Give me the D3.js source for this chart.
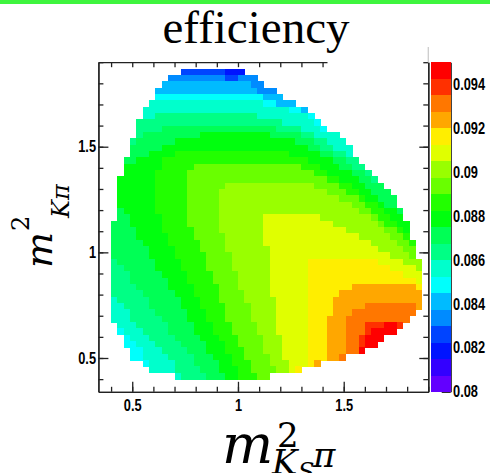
<!DOCTYPE html>
<html lang="en">
<head>
<meta charset="UTF-8">
<title>efficiency</title>
<script src="https://d3js.org/d3.v7.min.js"></script>
<style>
  body { margin: 0; padding: 0; background: #fff; }
  svg { display: block; }
  .lab text { font-family: "Liberation Sans", Arial, sans-serif; font-weight: bold; font-size: 16px; fill: #000; }
  .lab path, .lab line { stroke: #222; stroke-width: 1.3px; }
  .math { font-family: "DejaVu Serif", serif; font-style: italic; fill: #000; }
</style>
</head>
<body>
<div id="chart"></div>
<script>
// axis ranges of the Dalitz plot
const xRange = [0.34, 1.90];
const yRange = [0.34, 1.90];
const binSize = 0.03;

// colour axis: 20 contour levels
const zRange = [0.080, 0.095];
const nLevels = 20;

const xTickLabels = [0.5, 1, 1.5];
const yTickLabels = [0.5, 1, 1.5];
const zTickLabels = [0.08, 0.082, 0.084, 0.086, 0.088, 0.09, 0.092, 0.094];

// efficiency map, one entry per y bin (row 0 = top):
// [row, first x bin, level, count, level, count, ...]  level 0..19 = contour band
const mapRows = [
  [1, 13, 3,7, 2,3],
  [2, 11, 4,9, 3,2, 4,3],
  [3, 10, 5,14, 4,2],
  [4, 9, 5,16, 4,3],
  [5, 9, 6,17, 5,3],
  [6, 8, 7,18, 6,2, 5,3],
  [7, 7, 7,23, 6,2, 5,1],
  [8, 7, 7,2, 8,16, 7,8, 6,1],
  [9, 6, 8,23, 7,5, 6,1],
  [10, 6, 8,4, 9,18, 8,4, 7,3, 6,1],
  [11, 6, 8,1, 9,9, 10,11, 9,5, 8,2, 7,4],
  [12, 5, 8,1, 9,6, 10,19, 9,3, 8,2, 7,3],
  [13, 5, 9,5, 10,23, 9,2, 8,2, 7,3],
  [14, 5, 9,3, 10,4, 11,18, 10,5, 9,2, 8,2, 7,1],
  [15, 4, 9,2, 10,4, 11,23, 10,4, 9,2, 8,2],
  [16, 4, 10,6, 11,5, 12,17, 11,3, 10,3, 9,2, 8,2],
  [17, 4, 10,5, 11,5, 12,20, 11,2, 10,4, 9,2, 8,1],
  [18, 3, 10,6, 11,5, 12,22, 11,2, 10,3, 9,2, 8,1],
  [19, 3, 10,6, 11,5, 12,6, 13,14, 12,4, 11,2, 10,2, 9,3],
  [20, 3, 10,6, 11,5, 12,5, 13,17, 12,3, 11,2, 10,2, 9,3],
  [21, 3, 10,6, 11,5, 12,5, 13,19, 12,3, 11,1, 10,2, 9,3],
  [22, 3, 10,6, 11,5, 12,5, 13,21, 12,2, 11,2, 10,1, 9,2],
  [23, 3, 9,1, 10,5, 11,5, 12,5, 13,22, 12,2, 11,2, 10,2, 9,1],
  [24, 3, 9,2, 10,5, 11,4, 12,5, 13,7, 14,9, 13,8, 12,1, 11,2, 10,2],
  [25, 2, 9,3, 10,5, 11,4, 12,5, 13,7, 14,11, 13,7, 12,1, 11,2, 10,2],
  [26, 2, 9,4, 10,4, 11,5, 12,4, 13,7, 14,13, 13,6, 12,2, 11,1, 10,1],
  [27, 2, 9,4, 10,5, 11,4, 12,5, 13,6, 14,15, 13,5, 12,2, 11,1],
  [28, 2, 9,5, 10,4, 11,5, 12,4, 13,6, 14,17, 13,4, 12,2, 11,1],
  [29, 2, 9,6, 10,4, 11,4, 12,4, 13,7, 14,17, 13,4, 12,2],
  [30, 2, 9,6, 10,4, 11,5, 12,4, 13,6, 14,19, 13,3, 12,1],
  [31, 2, 8,1, 9,6, 10,4, 11,4, 12,4, 13,6, 14,6, 15,11, 14,4, 13,3],
  [32, 2, 8,2, 9,5, 10,4, 11,4, 12,4, 13,6, 14,6, 15,13, 14,4, 13,1],
  [33, 2, 8,3, 9,5, 10,4, 11,4, 12,4, 13,5, 14,6, 15,15, 14,3],
  [34, 2, 8,3, 9,6, 10,3, 11,4, 12,4, 13,5, 14,6, 15,17, 14,1],
  [35, 2, 8,4, 9,5, 10,4, 11,4, 12,3, 13,5, 14,6, 15,7, 16,10, 15,1],
  [36, 2, 8,5, 9,5, 10,3, 11,4, 12,4, 13,4, 14,6, 15,5, 16,13],
  [37, 2, 7,1, 8,5, 9,5, 10,3, 11,3, 12,4, 13,5, 14,5, 15,4, 16,14],
  [38, 2, 7,2, 8,4, 9,5, 10,3, 11,4, 12,4, 13,4, 14,5, 15,4, 16,5, 17,8, 16,1],
  [39, 2, 7,3, 8,4, 9,5, 10,3, 11,3, 12,4, 13,4, 14,5, 15,4, 16,3, 17,10],
  [40, 2, 7,3, 8,5, 9,4, 10,3, 11,3, 12,4, 13,4, 14,5, 15,3, 16,3, 17,10],
  [41, 3, 7,3, 8,5, 9,4, 10,3, 11,3, 12,4, 13,3, 14,5, 15,3, 16,3, 17,3, 18,3, 19,2, 18,1],
  [42, 3, 6,1, 7,3, 8,4, 9,4, 10,3, 11,3, 12,4, 13,3, 14,5, 15,3, 16,3, 17,3, 18,1, 19,4],
  [43, 4, 6,1, 7,3, 8,4, 9,4, 10,3, 11,3, 12,4, 13,3, 14,4, 15,3, 16,3, 17,2, 18,1, 19,3],
  [44, 4, 6,2, 7,3, 8,4, 9,4, 10,3, 11,2, 12,4, 13,3, 14,4, 15,3, 16,3, 17,2, 18,1, 19,2],
  [45, 5, 6,2, 7,3, 8,4, 9,3, 10,3, 11,3, 12,3, 13,3, 14,4, 15,3, 16,3, 17,2, 19,1],
  [46, 5, 6,2, 7,4, 8,4, 9,3, 10,3, 11,2, 12,4, 13,2, 14,4, 15,3, 16,2, 17,1],
  [47, 7, 6,1, 7,4, 8,3, 9,4, 10,2, 11,3, 12,3, 13,3, 14,3, 15,1, 16,1],
  [48, 8, 7,4, 8,4, 9,3, 10,3, 11,2, 12,4, 13,2, 14,1, 15,1],
  [49, 12, 7,1, 8,4, 9,3, 10,2, 11,3, 12,2]
];

// ROOT "pretty" palette colours used by the 20 contours (low -> high)
const palette = [
  "#6300ff", "#3300ff", "#0014ff", "#0044ff", "#008bff",
  "#00bbff", "#00fffc", "#00ffcc", "#00ff85", "#00ff55",
  "#00ff0e", "#22ff00", "#69ff00", "#99ff00", "#e0ff00",
  "#ffee00", "#ffa700", "#ff7700", "#ff3000", "#ff0000"
];

const W = 490, H = 473;
const frame = { left: 98.4, right: 428.3, top: 62.2, bottom: 391.8 };
const bar = { left: 430.5, right: 450.7 };

const svg = d3.select("#chart").append("svg")
    .attr("width", W)
    .attr("height", H);

svg.append("rect")
    .attr("x", 0).attr("y", 0)
    .attr("width", W).attr("height", 4)
    .attr("fill", "#3ef53e");

const x = d3.scaleLinear().domain(xRange).range([frame.left, frame.right]);
const y = d3.scaleLinear().domain(yRange).range([frame.bottom, frame.top]);
const zStep = (zRange[1] - zRange[0]) / nLevels;
const color = d3.scaleQuantize().domain(zRange).range(palette);

// unpack the rows into bins with an efficiency value
const cells = [];
mapRows.forEach(r => {
    const [row, first, ...runs] = r;
    const yLo = yRange[1] - (row + 1) * binSize;
    let col = first;
    for (let i = 0; i < runs.length; i += 2) {
        for (let k = 0; k < runs[i + 1]; k++) {
            cells.push({ x: xRange[0] + col * binSize, y: yLo, z: zRange[0] + (runs[i] + 0.5) * zStep });
            col++;
        }
    }
});

svg.append("g")
    .attr("shape-rendering", "crispEdges")
    .selectAll("rect")
    .data(cells)
    .join("rect")
    .attr("x", d => x(d.x))
    .attr("y", d => y(d.y + binSize))
    .attr("width", d => x(d.x + binSize) - x(d.x) + 0.5)
    .attr("height", d => y(d.y) - y(d.y + binSize) + 0.5)
    .attr("fill", d => color(d.z));

// frame axes, ticks on all four sides pointing inwards
const minorTicks = d3.range(4, 20).map(v => v / 10);
const fmt = d3.format("~g");
const axes = svg.append("g").attr("class", "lab");

axes.append("g")
    .attr("transform", `translate(0,${frame.bottom})`)
    .call(d3.axisBottom(x).tickValues(minorTicks).tickSizeInner(-5).tickSizeOuter(0).tickFormat(""));
axes.append("g")
    .attr("transform", `translate(0,${frame.bottom})`)
    .call(d3.axisBottom(x).tickValues(xTickLabels).tickSizeInner(-10).tickSizeOuter(0).tickPadding(8).tickFormat(fmt));

axes.append("g")
    .attr("transform", `translate(${frame.left},0)`)
    .call(d3.axisLeft(y).tickValues(minorTicks).tickSizeInner(-5).tickSizeOuter(0).tickFormat(""));
axes.append("g")
    .attr("transform", `translate(${frame.left},0)`)
    .call(d3.axisLeft(y).tickValues(yTickLabels).tickSizeInner(-10).tickSizeOuter(0).tickPadding(3).tickFormat(fmt));

// top axis is only visible up to about x = 1.4
const topEnd = 327;
const xTop = d3.scaleLinear().domain([xRange[0], x.invert(topEnd)]).range([frame.left, topEnd]);
axes.append("g")
    .attr("transform", `translate(0,${frame.top})`)
    .call(d3.axisTop(xTop).tickValues(minorTicks.filter(v => x(v) < topEnd)).tickSizeInner(-5).tickSizeOuter(0).tickFormat(""));

axes.append("g")
    .attr("transform", `translate(${frame.right},0)`)
    .call(d3.axisRight(y).tickValues(minorTicks).tickSizeInner(-5).tickSizeOuter(0).tickFormat(""));
axes.append("g")
    .attr("transform", `translate(${frame.right},0)`)
    .call(d3.axisRight(y).tickValues(yTickLabels).tickSizeInner(-9).tickSizeOuter(0).tickFormat(""));
axes.append("line")
    .attr("x1", frame.right).attr("x2", frame.right)
    .attr("y1", 47).attr("y2", frame.top)
    .style("stroke", "#ccc");

// colour bar
const z = d3.scaleLinear().domain(zRange).range([frame.bottom, frame.top]);
const levels = d3.range(nLevels).map(i => zRange[0] + i * zStep);
svg.append("g")
    .attr("shape-rendering", "crispEdges")
    .selectAll("rect")
    .data(levels)
    .join("rect")
    .attr("x", bar.left)
    .attr("y", d => z(d + zStep))
    .attr("width", bar.right - bar.left)
    .attr("height", d => z(d) - z(d + zStep) + 0.3)
    .attr("fill", d => color(d + zStep / 2));

axes.append("g")
    .attr("transform", `translate(${bar.right},0)`)
    .call(d3.axisRight(z).tickValues(zTickLabels).tickSizeInner(-9).tickSizeOuter(0).tickPadding(3).tickFormat(fmt));

// condensed bold labels
axes.selectAll(".tick text").attr("transform", "scale(0.8,1)");

// title
svg.append("text")
    .attr("x", 256).attr("y", 43)
    .attr("text-anchor", "middle")
    .style("font-family", "'Liberation Serif', 'Times New Roman', serif")
    .style("font-size", "47px")
    .text("efficiency");

// x axis title  m^2_{K_S pi}
const xt = svg.append("g").attr("class", "math");
xt.append("text").attr("x", 222).attr("y", 463).style("font-size", "54px").text("m");
xt.append("text").attr("x", 277).attr("y", 447).style("font-size", "34px").style("font-style", "normal").text("2");
xt.append("text").attr("x", 272).attr("y", 474).style("font-size", "34px").text("K");
xt.append("text").attr("x", 298).attr("y", 480).style("font-size", "24px").text("S");
xt.append("text").attr("x", 313).attr("y", 467).style("font-size", "34px").text("π");

// y axis title  m^2_{K pi}
const yt = svg.append("g").attr("class", "math").attr("transform", "translate(52,268) rotate(-90)");
yt.append("text").attr("x", 0).attr("y", 0).style("font-size", "38px").text("m");
yt.append("text").attr("x", 37).attr("y", -23).style("font-size", "24px").style("font-style", "normal").text("2");
yt.append("text").attr("x", 50).attr("y", 17).style("font-size", "24px").text("Kπ");
</script>
</body>
</html>
